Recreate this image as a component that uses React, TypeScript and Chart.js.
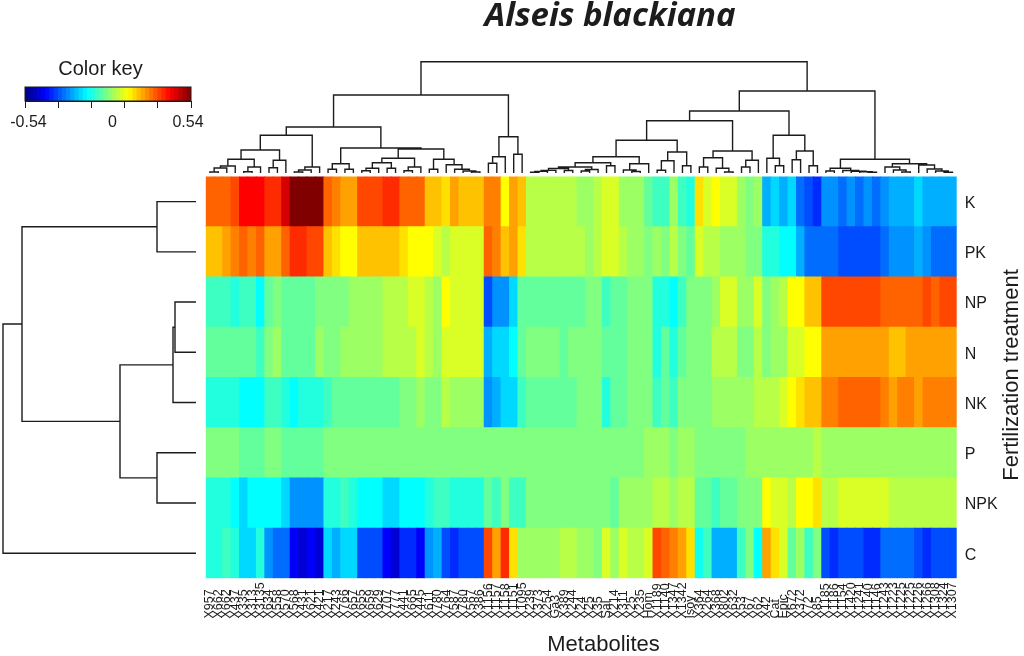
import React, { useEffect, useRef } from "react";
import { Chart, registerables } from "chart.js";

Chart.register(...registerables);

const FONT = '"Liberation Sans", Arial, sans-serif';
const INK = "#1c1c1c";

const columnLabels = [
  "X957","X662","X662","X437","X335","X313","X3135","X634","X558","X570",
  "X568","X431","X621","X421","X217","X243","X766","X657","X655","X659",
  "X629","X707","X777","X441","X665","X445","X611","X780","X764","X587",
  "X780","X567","X386","X1156","X1157","X1158","X1151","X1095","X239","X373",
  "X254","Ga3","X389","X244","X24","X25","X35","Sal","X214","X311",
  "X25","X235","Hom","X1189","X1140","X1347","X1342","Isoy","X364","X264",
  "X368","X802","X632","X53","X67","X62","X42","Cat","Epic","X672",
  "X372","X72","X85","X1185","X1186","X1154","X1420","X1241","X1140","X1146",
  "X1243","X1223","X1225","X1225","X1226","X1266","X1308","X1324","X1307",
];

const rowLabels = ["K", "PK", "NP", "N", "NK", "P", "NPK", "C"];

const rowK = [
  .30,.30,.30,.33,.405,.405,.405,.36,.36,.45,.54,.54,.54,.54,.30,.27,.235,.235,.33,.33,.33,.36,.36,.30,.30,.30,.20,.20,.167,.235,.20,.20,.20,
  .27,.27,.135,.235,.20,.06,.06,.06,.06,.06,.06,.03,.03,.06,.095,.095,.03,.03,.03,-.03,-.07,-.07,.03,-.07,-.10,.167,.095,.135,.095,.095,.03,0,.03,
  -.22,-.175,-.22,-.175,-.29,-.325,-.36,-.25,-.25,-.29,-.25,-.29,-.25,-.29,-.25,-.22,-.22,-.22,-.175,-.22,-.22,-.22,-.22,
];
const rowPK = [
  .20,.20,.235,.27,.30,.27,.30,.235,.235,.30,.36,.36,.33,.33,.20,.167,.135,.135,.20,.20,.20,.20,.20,.167,.135,.135,.135,.095,.06,.095,.095,.095,.095,
  .30,.27,.20,.235,.167,.06,.06,.06,.06,.06,.06,.06,.03,.06,.095,.095,.06,.03,.03,0,.03,0,.06,0,-.03,.095,.06,.06,.03,.03,.03,0,0,
  -.10,-.10,-.135,-.135,-.22,-.29,-.29,-.29,-.29,-.325,-.325,-.325,-.325,-.325,-.29,-.25,-.25,-.25,-.22,-.25,-.29,-.29,-.29,
];
const rowNP = [
  -.07,-.07,-.07,-.10,-.07,-.07,-.135,-.03,0,-.03,-.03,-.03,-.03,0,0,0,0,.03,.03,.03,.03,.06,.06,.06,.095,.095,.06,.03,.135,.095,.095,.095,.095,
  -.325,-.25,-.25,-.175,-.03,-.03,-.03,-.03,-.03,-.03,-.03,-.03,0,0,-.07,-.03,-.03,0,0,0,-.10,-.10,-.135,-.07,0,0,0,.03,.095,.095,.03,.03,.095,
  0,.03,.06,.135,.135,.20,.20,.33,.33,.33,.33,.33,.33,.33,.30,.30,.30,.30,.30,.33,.30,.33,.33,
];
const rowN = [
  -.03,-.03,-.03,-.03,-.03,-.03,-.07,0,.03,-.03,-.03,-.03,-.03,.03,0,0,.03,.03,.03,.03,.03,.06,.06,.06,.06,.095,.06,.03,.095,.095,.095,.095,.095,
  -.22,-.175,-.175,-.135,-.03,0,0,0,0,-.03,0,0,0,0,-.03,-.03,-.03,0,0,0,-.10,-.03,-.10,-.03,0,0,0,.06,.06,.06,0,0,.06,
  0,.03,.03,.095,.095,.135,.135,.235,.235,.235,.235,.235,.235,.235,.235,.20,.20,.235,.235,.235,.235,.235,.235,
];
const rowNK = [
  -.10,-.10,-.10,-.10,-.135,-.135,-.135,-.07,-.07,-.10,-.135,-.10,-.10,-.10,-.07,-.03,-.03,-.03,-.03,-.03,-.03,-.03,-.03,0,0,.03,0,0,.06,.03,.03,.03,.03,
  -.25,-.22,-.175,-.175,-.07,-.03,-.03,-.03,-.03,-.03,-.03,0,0,0,-.10,-.03,-.03,0,0,0,-.07,-.03,-.07,0,0,0,0,.03,.03,.03,.03,.03,.06,
  .06,.06,.095,.135,.167,.20,.20,.27,.27,.30,.30,.30,.30,.30,.27,.235,.27,.27,.235,.27,.27,.27,.27,
];
const rowP = [
  0,0,0,0,-.03,-.03,-.03,0,0,-.03,-.03,-.03,-.03,-.03,0,0,0,0,0,0,0,0,0,0,0,0,0,0,0,0,0,0,0,
  0,0,0,0,0,0,0,0,0,0,0,0,0,0,0,0,0,0,0,.03,.03,.03,0,.03,.03,0,0,0,0,0,0,.03,.03,
  .03,.03,.03,.03,.03,.03,.06,.03,.03,.03,.03,.03,.03,.03,.03,.03,.03,.03,.03,.03,.03,.03,.03,
];
const rowNPK = [
  -.10,-.10,-.10,-.135,-.175,-.135,-.135,-.135,-.135,-.175,-.25,-.25,-.25,-.25,-.10,-.10,-.07,-.10,-.135,-.135,-.135,-.175,-.175,-.135,-.135,-.135,-.10,-.07,-.07,-.10,-.10,-.10,-.10,
  -.03,-.07,0,-.07,-.07,0,0,0,0,0,0,0,0,0,0,-.03,.03,.03,.03,.03,.06,.06,.03,.06,.06,-.03,-.03,-.07,-.03,-.03,0,0,0,
  .135,.095,.095,.06,.135,.135,.167,.06,.06,.095,.095,.095,.095,.095,.095,.06,.06,.06,.06,.06,.06,.06,.06,
];
const rowC = [
  -.10,-.10,-.07,-.10,-.175,-.175,-.10,-.25,-.29,-.29,-.41,-.45,-.41,-.45,-.175,-.22,-.175,-.175,-.325,-.325,-.325,-.41,-.45,-.36,-.36,-.41,-.25,-.22,-.325,-.36,-.325,-.325,-.325,
  .33,.235,.36,.167,.03,.03,.03,.03,.03,.06,.06,.03,.03,0,.095,.03,.095,.06,.06,.095,.33,.30,.27,.235,.167,-.12,-.07,-.22,-.22,-.22,-.07,0,-.135,
  .235,.167,.095,-.03,.03,-.07,0,-.325,-.36,-.325,-.325,-.325,-.36,-.36,-.29,-.29,-.29,-.29,-.325,-.36,-.325,-.325,-.325,
];
const heatRows = [rowK, rowPK, rowNP, rowN, rowNK, rowP, rowNPK, rowC];

const keyLevels = [
  -.527,-.5,-.473,-.446,-.419,-.392,-.365,-.338,-.311,-.284,-.257,-.23,-.203,-.176,-.149,-.122,-.095,-.068,-.041,-.014,
  .014,.041,.068,.095,.122,.149,.176,.203,.23,.257,.284,.311,.338,.365,.392,.419,.446,.473,.5,.527,
];
const keyTicks = [-0.54, -0.27, 0, 0.27, 0.54];

// Dendrograms: [height, left, right]; a plain number is a leaf (column or row index).
const columnTree = [111.3,
  [78,
    [46,
      [37.7,
        [23,
          [13.7, [7, [5, [1, 0, 1], 2], 3], [6, [1.3, 4, 5], 6]],
          [12.7, [5.3, 7, 8], 9],
        ],
        [6, [3, [1, 10, 11], 12], 13],
      ],
      [25,
        [9.3, [3.7, 14, 15], [3.7, 16, 17]],
        [24,
          [14.7,
            [10.3, [4.7, [2.3, 18, 19], 20], [4.7, 21, 22]],
            [6, [2.3, 23, 24], 25],
          ],
          [13.7, [3.7, 26, 27], [8.3, 28, [3.7, 29, [2, 30, [1, 31, 32]]]]],
        ],
      ],
    ],
    [36.3, [16.3, [9.7, 33, 34], 35], [18.7, 36, 37]],
  ],
  [82,
    [62,
      [52.3,
        [32.7,
          [16.3,
            [10.3,
              [6, [4.5, [2.6, [1.6, [.8, 38, 39], 40], 41], [2.5, 42, 43]], [3.5, [2, 44, 45], 46]],
              [7.3, 47, 48],
            ],
            [9.3, [3, 49, [1.5, 50, 51]], 52],
          ],
          [21, [12.3, [2.7, 53, 54], 55], [7.3, 56, 57]],
        ],
        [22,
          [15.3, [6, 58, 59], [4.7, 60, [1, 61, 62]]],
          [12.7, [6, 63, 64], 65],
        ],
      ],
      [37.7, [14.7, 66, [7.3, 67, 68]], [22, [13.3, 69, 70], [7.3, 71, 72]]],
    ],
    [13.7,
      [4.7, [2, 73, 74], [2.5, 75, [1.8, 76, [1.2, 77, [.8, 78, 79]]]]],
      [9.3, [6, 80, [3, 81, [1, 82, 83]]], [8, 84, [4, 85, [2, 86, [.8, 87, 88]]]]],
    ],
  ],
];
const rowTree = [193,
  [174, [39, 0, 1], [76, [23, [21, 2, 3], 4], [39, 5, 6]]],
  7,
];

const clamp = (v: number) => Math.max(0, Math.min(1, v));
function valueColor(v: number) {
  const t = (v + 0.54) / 1.08;
  const r = clamp(Math.min(4 * t - 1.5, 4.5 - 4 * t));
  const g = clamp(Math.min(4 * t - 0.5, 3.5 - 4 * t));
  const b = clamp(Math.min(4 * t + 0.5, 2.5 - 4 * t));
  return `rgb(${Math.round(r * 255)},${Math.round(g * 255)},${Math.round(b * 255)})`;
}

type Pt = { x: number; y: number };
function treeSegments(tree: any, horizontal: boolean) {
  const out: Pt[] = [];
  const mk = (pos: number, h: number): Pt => (horizontal ? { x: h, y: pos } : { x: pos, y: h });
  const walk = (n: any): { pos: number; h: number } => {
    if (typeof n === "number") return { pos: n, h: 0 };
    const a = walk(n[1]);
    const b = walk(n[2]);
    out.push(mk(a.pos, a.h), mk(a.pos, n[0]), mk(b.pos, n[0]), mk(b.pos, b.h), { x: NaN, y: NaN });
    return { pos: (a.pos + b.pos) / 2, h: n[0] };
  };
  walk(tree);
  return out;
}

const pageTexts = [
  { text: "Alseis blackiana", x: 610, y: 17, font: 'italic bold 33px "Open Sans", sans-serif', rot: 0 },
  { text: "Color key", x: 100.5, y: 69, font: `20px ${FONT}`, rot: 0 },
  { text: "-0.54", x: 28.5, y: 123, font: `16px ${FONT}`, rot: 0 },
  { text: "0", x: 112.5, y: 123, font: `16px ${FONT}`, rot: 0 },
  { text: "0.54", x: 188, y: 123, font: `16px ${FONT}`, rot: 0 },
  { text: "Metabolites", x: 603.5, y: 645, font: `22px ${FONT}`, rot: 0 },
  { text: "Fertilization treatment", x: 1012, y: 375, font: `22px ${FONT}`, rot: -Math.PI / 2 },
];

const pageTextPlugin = {
  id: "pageText",
  afterDraw(chart: any) {
    const { ctx } = chart;
    const xs = chart.scales.x;
    ctx.save();
    ctx.fillStyle = INK;
    ctx.textBaseline = "middle";
    ctx.textAlign = "center";
    for (const t of pageTexts) {
      ctx.save();
      ctx.translate(t.x, t.y);
      ctx.rotate(t.rot);
      ctx.font = t.font;
      ctx.fillText(t.text, 0, 0);
      ctx.restore();
    }
    ctx.font = `12.5px ${FONT}`;
    ctx.textAlign = "left";
    columnLabels.forEach((label, i) => {
      ctx.save();
      ctx.translate(xs.getPixelForValue(i), 618.5);
      ctx.rotate(-Math.PI / 2);
      ctx.fillText(label, 0, 0);
      ctx.restore();
    });
    ctx.restore();
  },
};

const framePlugin = {
  id: "frame",
  afterDatasetsDraw(chart: any) {
    const { ctx, chartArea: a } = chart;
    ctx.save();
    ctx.strokeStyle = INK;
    ctx.lineWidth = 1;
    ctx.strokeRect(a.left, a.top, a.right - a.left, a.bottom - a.top);
    ctx.restore();
  },
};

function Layer({ rect, build }: { rect: [number, number, number, number]; build: (c: HTMLCanvasElement) => Chart }) {
  const ref = useRef<HTMLCanvasElement>(null);
  useEffect(() => {
    const chart = build(ref.current!);
    return () => chart.destroy();
  }, []);
  return (
    <canvas
      ref={ref}
      width={rect[2]}
      height={rect[3]}
      style={{ position: "absolute", left: rect[0], top: rect[1], width: rect[2], height: rect[3], display: "block" }}
    />
  );
}

const commonOptions = {
  responsive: false,
  animation: false as const,
  devicePixelRatio: 1,
  plugins: { legend: { display: false }, tooltip: { enabled: false } },
};

function buildHeat(canvas: HTMLCanvasElement) {
  const datasets = [...heatRows].reverse().map((row, i) => ({
    label: rowLabels[7 - i],
    data: row.map(() => 1),
    backgroundColor: row.map(valueColor),
    borderWidth: 0,
    inflateAmount: 0.4,
    stack: "rows",
    barPercentage: 1,
    categoryPercentage: 1,
  }));
  return new Chart(canvas, {
    type: "bar",
    data: { labels: columnLabels, datasets },
    plugins: [pageTextPlugin],
    options: {
      ...commonOptions,
      layout: { padding: { left: 205.7, top: 176.5, right: 1024 - 956.7 - 44, bottom: 656 - 578.3 } },
      scales: {
        x: { display: false, stacked: true },
        y: {
          position: "right",
          stacked: true,
          min: 0,
          max: 8,
          afterBuildTicks: (s: any) => {
            s.ticks = rowLabels.map((_, i) => ({ value: i + 0.5 }));
          },
          afterFit: (s: any) => {
            s.width = 44;
          },
          grid: { display: false, drawTicks: false },
          border: { display: false },
          ticks: {
            padding: 8,
            labelOffset: 2,
            color: INK,
            font: { family: FONT, size: 16 },
            callback: (v: any) => rowLabels[7.5 - Number(v)],
          },
        },
      },
    } as any,
  });
}

function buildTree(canvas: HTMLCanvasElement, tree: any, horizontal: boolean, xMax: number, yRange: [number, number], pad: any) {
  return new Chart(canvas, {
    type: "scatter",
    data: {
      datasets: [
        {
          data: treeSegments(tree, horizontal),
          showLine: true,
          spanGaps: false,
          pointRadius: 0,
          borderColor: INK,
          borderWidth: 1.4,
          clip: false,
        },
      ],
    },
    options: {
      ...commonOptions,
      layout: { padding: pad },
      scales: horizontal
        ? {
            x: { type: "linear", display: false, min: 0, max: xMax, reverse: true },
            y: { type: "linear", display: false, min: yRange[0], max: yRange[1], reverse: true },
          }
        : {
            x: { type: "linear", display: false, min: -0.5, max: xMax },
            y: { type: "linear", display: false, min: yRange[0], max: yRange[1] },
          },
    } as any,
  });
}

function buildKey(canvas: HTMLCanvasElement) {
  return new Chart(canvas, {
    type: "bar",
    data: {
      labels: keyLevels.map(String),
      datasets: [
        {
          data: keyLevels.map(() => 1),
          backgroundColor: keyLevels.map(valueColor),
          borderWidth: 0,
          inflateAmount: 0.4,
          barPercentage: 1,
          categoryPercentage: 1,
        },
      ],
    },
    plugins: [framePlugin],
    options: {
      ...commonOptions,
      layout: { padding: { left: 25, right: 29, top: 7, bottom: 4 } },
      scales: {
        x: { display: false },
        y: { display: false, min: 0, max: 1 },
        value: {
          type: "linear",
          axis: "x",
          position: "bottom",
          min: -0.54,
          max: 0.54,
          afterBuildTicks: (s: any) => {
            s.ticks = keyTicks.map((value) => ({ value }));
          },
          afterFit: (s: any) => {
            s.height = 31;
          },
          grid: { drawOnChartArea: false, tickLength: 7, tickColor: INK, tickWidth: 1 },
          border: { color: INK },
          ticks: { display: false, autoSkip: false },
        },
      },
    } as any,
  });
}

export default function App() {
  return (
    <div style={{ position: "absolute", left: 0, top: 0, width: 1024, height: 656, background: "#fff", overflow: "hidden" }}>
      <Layer rect={[0, 0, 1024, 656]} build={buildHeat} />
      <Layer
        rect={[200, 55, 763, 122]}
        build={(c) => buildTree(c, columnTree, false, 88.5, [0, 118], { left: 5.7, right: 6.3, top: 0, bottom: 4 })}
      />
      <Layer
        rect={[0, 170, 200, 414]}
        build={(c) => buildTree(c, rowTree, true, 196, [-0.5, 7.5], { left: 0, right: 4, top: 6.5, bottom: 5.7 })}
      />
      <Layer rect={[0, 80, 220, 56]} build={buildKey} />
    </div>
  );
}
